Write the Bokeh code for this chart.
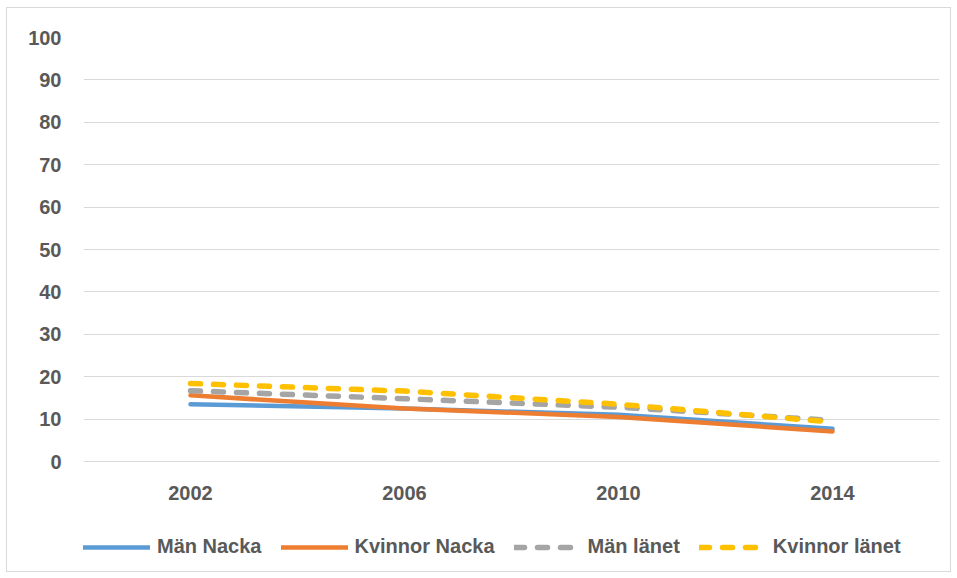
from bokeh.plotting import figure
from bokeh.models import FactorRange, Range1d, FixedTicker, Legend, LegendItem
from bokeh.layouts import column
from bokeh.embed import file_html
from bokeh.resources import INLINE

years = ["2002", "2006", "2010", "2014"]
man_nacka = [13.5, 12.5, 11.0, 7.7]
kvinnor_nacka = [15.6, 12.5, 10.5, 7.1]
man_lanet = [16.7, 14.8, 12.8, 9.7]
kvinnor_lanet = [18.4, 16.6, 13.5, 9.3]
y_ticks = list(range(0, 101, 10))
series_names = ["Män Nacka", "Kvinnor Nacka", "Män länet", "Kvinnor länet"]
series_colors = ["#5B9BD5", "#ED7D31", "#A5A5A5", "#FFC000"]
series_dash = ["solid", "solid", "10 13", "10 13"]
series_width = [4.5, 4.5, 5.5, 5.5]

FONT = "Liberation Sans"
TXT = "#595959"

p = figure(width=943, height=514, x_range=FactorRange(*years), y_range=Range1d(0, 100),
           output_backend="svg", toolbar_location=None,
           min_border_left=76, min_border_right=11, min_border_top=29, min_border_bottom=61)
p.x_range.range_padding = 0
p.outline_line_color = None

p.yaxis.ticker = FixedTicker(ticks=y_ticks)
p.yaxis.axis_line_color = None
p.yaxis.major_tick_line_color = None
p.yaxis.minor_tick_line_color = None
p.yaxis.major_label_standoff = 16
p.xaxis.axis_line_color = "#d9d9d9"
p.xaxis.major_tick_line_color = None
p.xaxis.minor_tick_line_color = None
p.xaxis.major_label_standoff = 18
for ax in (p.xaxis, p.yaxis):
    ax.major_label_text_font = FONT
    ax.major_label_text_font_size = "20px"
    ax.major_label_text_font_style = "bold"
    ax.major_label_text_color = TXT

p.xgrid.grid_line_color = None
p.ygrid.grid_line_color = "#d9d9d9"
p.ygrid.grid_line_width = 1

all_values = [man_nacka, kvinnor_nacka, man_lanet, kvinnor_lanet]
for vals, col, dash, w in zip(all_values, series_colors, series_dash, series_width):
    p.line(years, vals, line_color=col, line_width=w, line_dash=dash, line_cap="round")

# legend strip (separate small figure below the chart, no axes)
lg = figure(width=943, height=49, x_range=Range1d(0, 1), y_range=Range1d(0, 1),
            x_axis_type=None, y_axis_type=None,
            output_backend="svg", toolbar_location=None,
            min_border_left=0, min_border_right=0, min_border_top=0, min_border_bottom=0)
lg.grid.visible = False
lg.outline_line_color = None
items = []
nan = float("nan")
for name, col, dash, w in zip(series_names, series_colors, series_dash, series_width):
    r = lg.line(x=[nan, nan], y=[nan, nan], line_color=col, line_width=w, line_dash=dash, line_cap="round")
    items.append(LegendItem(label=name, renderers=[r]))

legend = Legend(items=items, orientation="horizontal", location=(0, 13),
                glyph_width=67, glyph_height=20, label_standoff=7, spacing=19,
                padding=4, margin=0, border_line_color=None, background_fill_alpha=0,
                label_text_font=FONT, label_text_font_size="20px", label_text_font_style="bold",
                label_text_color=TXT)
lg.add_layout(legend, "center")

layout = column(p, lg, spacing=0)
layout.styles = {"border": "1px solid #d9d9d9", "margin-left": "6px", "margin-top": "7px"}

open("out.html", "w").write(file_html(layout, INLINE))
